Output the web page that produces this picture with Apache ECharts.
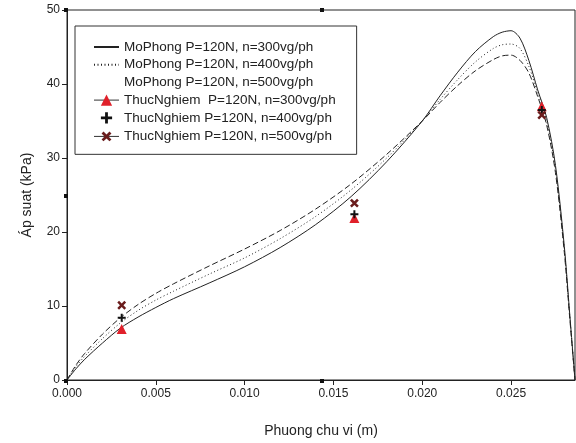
<!DOCTYPE html>
<html>
<head>
<meta charset="utf-8">
<script src="https://cdn.jsdelivr.net/npm/echarts@6/dist/echarts.min.js"></script>
<style>
html, body { margin: 0; padding: 0; background: #fff; }
#main { width: 576px; height: 443px; }
</style>
</head>
<body>
<div id="main"></div>
<script>
// x positions (m) of the simulated curves
var xs = [0, 0.0005, 0.001, 0.002, 0.003, 0.004, 0.005, 0.006, 0.008, 0.010, 0.012, 0.014, 0.016, 0.018, 0.020,
          0.021, 0.022, 0.023, 0.024, 0.0245, 0.025, 0.0255, 0.026, 0.0265, 0.027, 0.0275, 0.028, 0.0283, 0.0286];
// simulated pressure (kPa)
var mp300 = [0, 1.5, 2.8, 5.0, 7.0, 8.5, 9.8, 11.0, 13.1, 15.3, 17.9, 21.0, 24.8, 29.5, 35.0,
             38.4, 41.6, 44.4, 46.4, 47.0, 47.2, 46.2, 43.2, 39.2, 35.5, 29.0, 18.0, 9.0, 0];
var mp400 = [0, 1.8, 3.2, 5.6, 7.7, 9.4, 10.8, 12.0, 14.3, 16.5, 19.1, 22.1, 25.7, 30.0, 35.0,
             37.9, 40.6, 43.0, 44.8, 45.3, 45.4, 44.8, 42.4, 38.8, 35.0, 28.5, 17.6, 8.8, 0];
var mp500 = [0, 2.0, 3.6, 6.2, 8.4, 10.2, 11.7, 13.0, 15.4, 17.7, 20.2, 23.1, 26.5, 30.5, 35.0,
             37.5, 39.8, 41.8, 43.3, 43.8, 43.9, 43.2, 41.5, 38.3, 34.5, 28.0, 17.2, 8.5, 0];
// measured points
var tnX = [0.00308, 0.01618, 0.02673];
var tn300 = [6.9, 21.9, 37.0];
var tn400 = [8.4, 22.4, 36.5];
var tn500 = [10.1, 23.9, 35.8];

var names = [
    'MoPhong P=120N, n=300vg/ph',
    'MoPhong P=120N, n=400vg/ph',
    'MoPhong P=120N, n=500vg/ph',
    'ThucNghiem  P=120N, n=300vg/ph',
    'ThucNghiem P=120N, n=400vg/ph',
    'ThucNghiem P=120N, n=500vg/ph'
];

function pairs(x, y) {
    var out = [];
    for (var i = 0; i < x.length; i++) out.push([x[i], y[i]]);
    return out;
}

var plusPath = 'path://M3,0h2v3h3v2h-3v3h-2v-3h-3v-2h3z';
var font = 'Liberation Sans, Arial, sans-serif';

var myChart = echarts.init(document.getElementById('main'));

function simLine(name, data, type) {
    return {
        name: name, type: 'line', data: data, symbol: 'none',
        smooth: 0.3,
        lineStyle: { color: '#222', width: 1, type: type },
        itemStyle: { color: '#222' }
    };
}

function expSeries(name, data, symbol, size, color, rotate) {
    return {
        name: name, type: 'line', data: data, symbol: symbol, symbolSize: size,
        symbolRotate: rotate || 0, showSymbol: true, z: 5,
        lineStyle: { opacity: 0 },
        itemStyle: { color: color, opacity: 1 }
    };
}

// little selection handles seen on the original frame
function handle(x, y) {
    return { type: 'rect', shape: { x: x - 2, y: y - 2, width: 4, height: 4 }, style: { fill: '#111' }, z: 10 };
}

var option = {
    animation: false,
    textStyle: { fontFamily: font },
    grid: { left: 67, right: 1, top: 10, bottom: 62, show: true, borderColor: '#222', borderWidth: 1 },
    legend: {
        orient: 'vertical', left: 75, top: 26,
        padding: [14, 21, 10, 18],
        borderColor: '#333', borderWidth: 1,
        itemWidth: 25, itemHeight: 14, itemGap: 3.7,
        textStyle: { fontFamily: font, fontSize: 13.5, color: '#222' },
        data: [
            { name: names[0], itemStyle: { opacity: 0 } },
            { name: names[1], itemStyle: { opacity: 0 } },
            { name: names[2], itemStyle: { opacity: 0 }, lineStyle: { opacity: 0 } },
            { name: names[3], lineStyle: { opacity: 1, color: '#333', width: 1 } },
            { name: names[4] },
            { name: names[5], lineStyle: { opacity: 1, color: '#333', width: 1 } }
        ]
    },
    xAxis: {
        type: 'value', min: 0, max: 0.0286, interval: 0.005,
        name: 'Phuong chu vi (m)', nameLocation: 'middle', nameGap: 44,
        nameTextStyle: { fontSize: 14, color: '#222' },
        splitLine: { show: false },
        axisLine: { lineStyle: { color: '#222' } },
        axisTick: { length: 5, lineStyle: { color: '#222' } },
        axisLabel: { fontSize: 12, color: '#222', margin: 8, showMaxLabel: false,
            formatter: function (v) { return v.toFixed(3); } }
    },
    yAxis: {
        type: 'value', min: 0, max: 50, interval: 10,
        name: 'Áp suat (kPa)', nameLocation: 'middle', nameGap: 33,
        nameTextStyle: { fontSize: 14, color: '#222' },
        splitLine: { show: false },
        axisLine: { show: true, lineStyle: { color: '#222' } },
        axisTick: { show: true, length: 5, lineStyle: { color: '#222' } },
        axisLabel: { fontSize: 12, color: '#222', margin: 7 }
    },
    graphic: [handle(66, 10), handle(322, 10), handle(66, 196), handle(66, 381), handle(322, 381)],
    series: [
        simLine(names[0], pairs(xs, mp300), 'solid'),
        simLine(names[1], pairs(xs, mp400), [1, 2.5]),
        simLine(names[2], pairs(xs, mp500), [6, 3]),
        expSeries(names[3], pairs(tnX, tn300), 'triangle', 10, '#e0202a'),
        expSeries(names[4], pairs(tnX, tn400), plusPath, 8, '#111'),
        expSeries(names[5], pairs(tnX, tn500), plusPath, 10, '#6a1c1c', 45)
    ]
};

myChart.setOption(option);
</script>
</body>
</html>
